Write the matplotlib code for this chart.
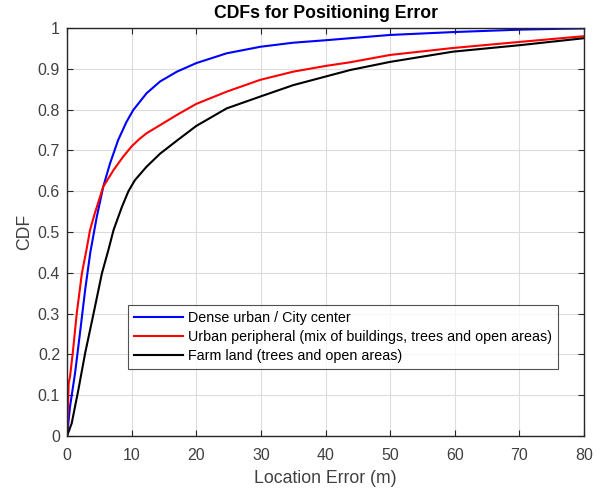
import numpy as np
import matplotlib.pyplot as plt

plt.rcParams['font.family'] = ['Liberation Sans', 'DejaVu Sans']

# %% Data (location error in m, CDF)
dense_x = [0, 0.46, 1.24, 2.0, 2.8, 3.6, 4.6, 5.6, 6.65, 7.9, 9.2, 10.25, 12.3,
           14.4, 17.0, 20.0, 24.7, 29.9, 35.0, 40.0, 43.8, 50, 59.7, 70.1, 76, 80]
dense_y = [0, 0.072, 0.154, 0.252, 0.358, 0.45, 0.537, 0.611, 0.668, 0.725,
           0.770, 0.799, 0.84, 0.869, 0.893, 0.914, 0.938, 0.954, 0.964, 0.970,
           0.975, 0.983, 0.99, 0.996, 0.998, 0.999]

urban_x = [0, 0.05, 0.15, 0.25, 0.46, 0.88, 1.5, 2.3, 3.0, 3.56, 4.3, 5.6, 7.2,
           8.7, 10.0, 11.2, 12.3, 14.4, 17.0, 20.0, 24.7, 29.9, 35.0, 40.0,
           43.8, 50, 59.7, 70.1, 80]
urban_y = [0, 0.03, 0.07, 0.13, 0.145, 0.203, 0.30, 0.399, 0.456, 0.505, 0.546,
           0.611, 0.652, 0.685, 0.710, 0.728, 0.742, 0.762, 0.787, 0.814, 0.844,
           0.873, 0.893, 0.907, 0.916, 0.934, 0.951, 0.966, 0.98]

farm_x = [0, 0.72, 1.75, 2.8, 4.1, 5.4, 6.4, 7.2, 8.5, 9.5, 10.5, 12.3, 14.4,
          17.0, 20.0, 24.7, 29.9, 35.0, 40.0, 43.8, 50, 59.7, 70.1, 80]
farm_y = [0, 0.031, 0.113, 0.203, 0.30, 0.399, 0.456, 0.505, 0.562, 0.600,
          0.627, 0.66, 0.692, 0.724, 0.760, 0.803, 0.832, 0.86, 0.881, 0.897,
          0.917, 0.942, 0.958, 0.975]

labels = ['Dense urban / City center',
          'Urban peripheral (mix of buildings, trees and open areas)',
          'Farm land (trees and open areas)']

# %% Plotting
fig = plt.figure(figsize=(6.04, 4.88), dpi=100)
ax = fig.add_axes([0.111, 0.1066, 0.856, 0.836])

ax.plot(dense_x, dense_y, color='blue', lw=1.5, label=labels[0])
ax.plot(urban_x, urban_y, color='red', lw=1.5, label=labels[1])
ax.plot(farm_x, farm_y, color='black', lw=1.5, label=labels[2])

ax.set_xlim(0, 80)
ax.set_ylim(0, 1)
ax.set_xticks(np.arange(0, 81, 10))
ax.set_yticks(np.arange(0, 1.01, 0.1))
ax.set_yticklabels(['0', '0.1', '0.2', '0.3', '0.4', '0.5', '0.6', '0.7',
                    '0.8', '0.9', '1'])
ax.grid(True, color='#dcdcdc', lw=0.8)
ax.set_axisbelow(True)
ax.tick_params(direction='in', top=True, right=True, length=4,
               labelsize=11.5, colors='#262626', labelcolor='#404040')
ax.tick_params(axis='x', pad=9)
ax.tick_params(axis='y', pad=5)
for s in ax.spines.values():
    s.set_color('#262626')
    s.set_linewidth(1.0)

ax.set_xlabel('Location Error (m)', fontsize=12.7, color='#404040',
              labelpad=5)
ax.set_ylabel('CDF', fontsize=12.7, color='#404040', labelpad=3)
ax.set_title('CDFs for Positioning Error', fontsize=12.7, fontweight='bold',
             color='black', pad=7)

leg = ax.legend(loc='lower left', bbox_to_anchor=(0.118, 0.164),
                fontsize=10.3, frameon=True, fancybox=False,
                edgecolor='#262626', borderpad=0.42, labelspacing=0.35,
                handlelength=3.4, handletextpad=0.35, borderaxespad=0)
leg.get_frame().set_linewidth(0.8)

fig.savefig('out.png', dpi=100)
